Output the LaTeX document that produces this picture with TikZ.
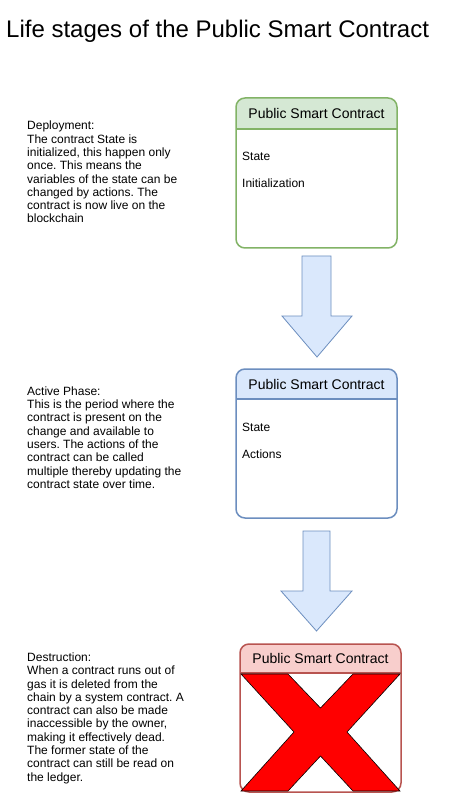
\documentclass[tikz,border=0pt]{standalone}
\usepackage{fontspec}
\setmainfont{Liberation Sans}
\frenchspacing
\definecolor{gfill}{HTML}{D5E8D4}
\definecolor{gline}{HTML}{82B366}
\definecolor{bfill}{HTML}{DAE8FC}
\definecolor{bline}{HTML}{6C8EBF}
\definecolor{rfill}{HTML}{F8CECC}
\definecolor{rline}{HTML}{B85450}
\definecolor{xred}{HTML}{FF0000}
\begin{document}
\begin{tikzpicture}[x=1pt,y=-1pt,
  boxline/.style={line width=1.5pt, rounded corners=9pt},
  headtext/.style={font=\fontsize{14}{16}\selectfont, inner sep=0pt},
  fieldtext/.style={font=\fontsize{12}{14}\selectfont, inner sep=0pt, anchor=west},
  desc/.style={font=\fontsize{12}{13.3}\selectfont\frenchspacing, inner sep=0pt, anchor=north west, align=left},
  blockarrow/.style={fill=bfill, draw=bline, line width=0.8pt, line join=miter},
  xshape/.style={fill=xred, draw=black, line width=0.6pt, line join=miter}]
\useasboundingbox (0,0) rectangle (456,799);
\fill[white] (0,0) rectangle (456,799);

% title
\node[font=\fontsize{24}{28}\selectfont, inner sep=0pt, anchor=base west] (title) at (6,38) {Life stages of the Public Smart Contract};

% ---------- box 1 (green) ----------
\fill[white, rounded corners=9pt] (236,98) rectangle (397,248);
\begin{scope}
  \clip[rounded corners=9pt] (236,98) rectangle (397,248);
  \fill[gfill] (236,98) rectangle (397,129);
\end{scope}
\draw[boxline, draw=gline] (236,98) rectangle (397,248);
\draw[draw=gline, line width=1.5pt] (236,129) -- (397,129);
\node[headtext] (h1) at (316.5,113.5) {Public Smart Contract};
\node[fieldtext] (s1) at (242,156) {State};
\node[fieldtext] (i1) at (242,183) {Initialization};

% ---------- box 2 (blue) ----------
\fill[white, rounded corners=9pt] (236,369) rectangle (397,518);
\begin{scope}
  \clip[rounded corners=9pt] (236,369) rectangle (397,518);
  \fill[bfill] (236,369) rectangle (397,399);
\end{scope}
\draw[boxline, draw=bline] (236,369) rectangle (397,518);
\draw[draw=bline, line width=1.5pt] (236,399) -- (397,399);
\node[headtext] (h2) at (316.5,384) {Public Smart Contract};
\node[fieldtext] (s2) at (242,427) {State};
\node[fieldtext] (a2) at (242,454) {Actions};

% ---------- box 3 (red) ----------
\fill[white, rounded corners=9pt] (240,644) rectangle (401,792);
\begin{scope}
  \clip[rounded corners=9pt] (240,644) rectangle (401,792);
  \fill[rfill] (240,644) rectangle (401,673);
\end{scope}
\draw[boxline, draw=rline] (240,644) rectangle (401,792);
\draw[draw=rline, line width=1.5pt] (240,673) -- (401,673);
\node[headtext] (h3) at (320.5,658.5) {Public Smart Contract};
\draw[xshape] (241,674) -- (288,674) -- (320.5,708) -- (353,674) -- (400,674)
  -- (347,732) -- (400,791) -- (353,791) -- (320.5,756) -- (288,791)
  -- (241,791) -- (294,732) -- cycle;

% ---------- block arrows ----------
\draw[blockarrow] (302,256) -- (331,256) -- (331,316) -- (352,316) -- (317,357)
  -- (282,316) -- (302,316) -- cycle;
\draw[blockarrow] (303,531) -- (330,531) -- (330,591) -- (352,591) -- (316.5,631)
  -- (281,591) -- (303,591) -- cycle;

% ---------- descriptions ----------
\node[desc] (d1) at (27,121) {Deployment:\\The contract State is\\initialized, this happen only\\once. This means the\\variables of the state can be\\changed by actions. The\\contract is now live on the\\blockchain};
\node[desc] (d2) at (27,386.5) {Active Phase:\\This is the period where the\\contract is present on the\\change and available to\\users. The actions of the\\contract can be called\\multiple thereby updating the\\contract state over time.};
\node[desc] (d3) at (27,652.5) {Destruction:\\When a contract runs out of\\gas it is deleted from the\\chain by a system contract. A\\contract can also be made\\inaccessible by the owner,\\making it effectively dead.\\The former state of the\\contract can still be read on\\the ledger.};
\end{tikzpicture}
\end{document}
